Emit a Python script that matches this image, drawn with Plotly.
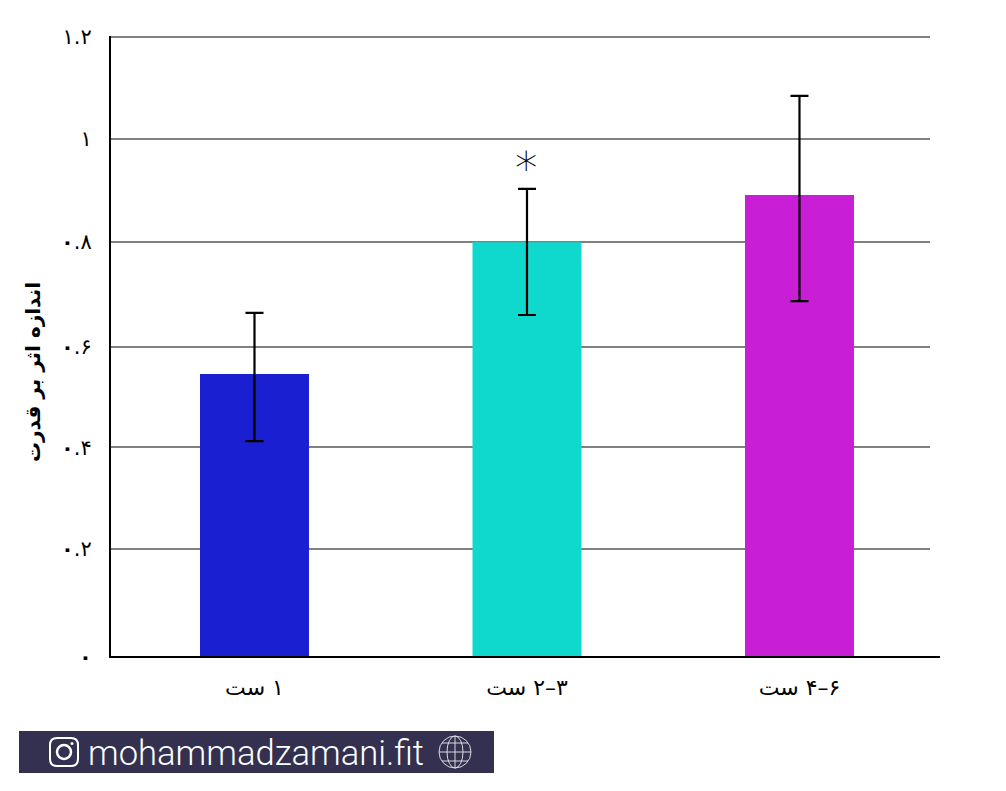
import plotly.graph_objects as go

# ---- data ----
categories = [
    "\u202b\u2066۱\u2069 ست\u202c",
    "\u202b\u2066۲–۳\u2069 ست\u202c",
    "\u202b\u2066۴–۶\u2069 ست\u202c",
]
values = [0.548, 0.803, 0.894]
err_up = [0.118, 0.103, 0.192]
err_down = [0.130, 0.141, 0.205]
colors = ["#1a20d2", "#0ed9cc", "#c81ed6"]
tick_vals = [0, 0.209, 0.406, 0.600, 0.803, 1.0026, 1.2]
tick_text = ["<b>۰</b>", "<b>۰</b>.۲", "<b>۰</b>.۴", "<b>۰</b>.۶", "<b>۰</b>.۸", "۱", "۱.۲"]
y_title = "اندازه اثر بر قدرت"
site = "mohammadzamani.fit"

W, H = 1006, 791
L, R, T, B = 111, 930, 36, 657
FA = "DejaVu Sans"


def px(x):
    return (x - L) / (R - L)


def py(y):
    return (B - y) / (B - T)


fig = go.Figure(
    go.Bar(
        x=categories,
        y=values,
        marker=dict(color=colors, line=dict(width=0)),
        width=0.4,
        error_y=dict(
            type="data", symmetric=False, array=err_up, arrayminus=err_down,
            color="black", thickness=2.2, width=9,
        ),
    )
)

shapes = [
    dict(type="line", xref="paper", yref="paper", x0=px(109), x1=px(940), y0=py(657), y1=py(657),
         line=dict(color="black", width=2), layer="above"),
    dict(type="rect", xref="paper", yref="paper", x0=px(19), x1=px(494), y0=py(731), y1=py(773),
         fillcolor="#33314f", line=dict(width=0)),
]

# instagram icon
x0, x1, y0, y1 = 50, 78, 738, 766
r = 7
shapes.append(dict(
    type="path", xref="paper", yref="paper",
    path=(
        f"M {px(x0 + r)} {py(y0)} L {px(x1 - r)} {py(y0)} Q {px(x1)} {py(y0)} {px(x1)} {py(y0 + r)} "
        f"L {px(x1)} {py(y1 - r)} Q {px(x1)} {py(y1)} {px(x1 - r)} {py(y1)} "
        f"L {px(x0 + r)} {py(y1)} Q {px(x0)} {py(y1)} {px(x0)} {py(y1 - r)} "
        f"L {px(x0)} {py(y0 + r)} Q {px(x0)} {py(y0)} {px(x0 + r)} {py(y0)} Z"
    ),
    line=dict(color="white", width=2),
))
shapes.append(dict(type="circle", xref="paper", yref="paper", x0=px(57), x1=px(71), y0=py(745), y1=py(759),
                   line=dict(color="white", width=2.5)))
shapes.append(dict(type="circle", xref="paper", yref="paper", x0=px(70.5), x1=px(73.5), y0=py(742), y1=py(745),
                   fillcolor="white", line=dict(width=0)))

# globe icon
gc = "#d8d8e0"
cx, cy, rad = 455, 752, 16
shapes.append(dict(type="circle", xref="paper", yref="paper", x0=px(cx - rad), x1=px(cx + rad),
                   y0=py(cy - rad), y1=py(cy + rad), line=dict(color=gc, width=1)))
shapes.append(dict(type="circle", xref="paper", yref="paper", x0=px(cx - 8), x1=px(cx + 8),
                   y0=py(cy - rad), y1=py(cy + rad), line=dict(color=gc, width=1)))
shapes.append(dict(type="line", xref="paper", yref="paper", x0=px(cx), x1=px(cx),
                   y0=py(cy - rad), y1=py(cy + rad), line=dict(color=gc, width=1)))
shapes.append(dict(type="line", xref="paper", yref="paper", x0=px(cx - rad), x1=px(cx + rad),
                   y0=py(cy), y1=py(cy), line=dict(color=gc, width=1)))
for dy, half in ((-9, 13), (9, 13)):
    shapes.append(dict(type="line", xref="paper", yref="paper", x0=px(cx - half), x1=px(cx + half),
                       y0=py(cy + dy), y1=py(cy + dy), line=dict(color=gc, width=1)))

annotations = [
    dict(x=1, y=0.945, xref="x", yref="y", text="*", showarrow=False,
         font=dict(family="DejaVu Sans Light", size=45, color="black"), yanchor="middle"),
    dict(x=px(86), y=py(752.5), xref="paper", yref="paper", text=site, showarrow=False,
         xanchor="left", yanchor="middle", font=dict(family="Roboto", size=34.6, color="white", weight=300)),
    dict(x=px(33), y=py(372), xref="paper", yref="paper", text=y_title, showarrow=False, textangle=-90,
         xanchor="center", yanchor="middle", font=dict(family=FA, size=20, color="black", weight="bold")),
]

fig.update_layout(
    width=W, height=H,
    margin=dict(l=L, r=W - R, t=T, b=H - B, pad=0),
    paper_bgcolor="white", plot_bgcolor="white",
    showlegend=False,
    shapes=shapes,
    annotations=annotations,
    font=dict(family=FA, color="black"),
    xaxis=dict(
        type="category", range=[-0.5266, 2.479], showgrid=False, showline=False, zeroline=False,
        ticks="", tickfont=dict(family=FA, size=22, color="black"), ticklabelstandoff=15,
    ),
    yaxis=dict(
        range=[0, 1.202], tickmode="array", tickvals=tick_vals, ticktext=tick_text,
        showgrid=True, gridcolor="#808080", gridwidth=2, zeroline=False,
        showline=True, linecolor="black", linewidth=2, ticks="",
        tickfont=dict(family=FA, size=21, color="black"), ticklabelstandoff=13,
    ),
)

fig.write_html("out.html", config=dict(displayModeBar=False),
               post_script="document.body.style.margin='0';document.documentElement.style.overflow='hidden';")
